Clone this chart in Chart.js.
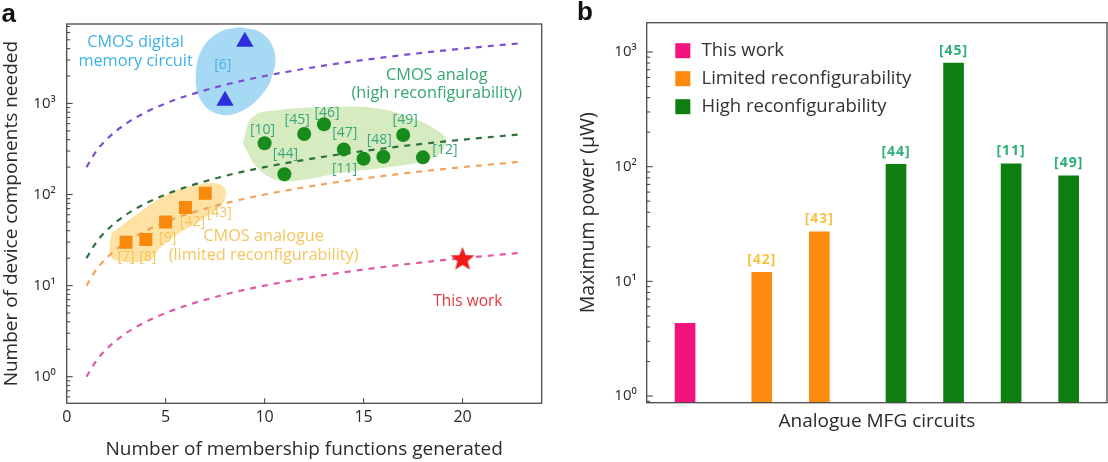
<!DOCTYPE html>
<html><head><meta charset="utf-8">
<script src="https://cdn.jsdelivr.net/npm/chart.js@4.4.1/dist/chart.umd.min.js"></script>
<style>
html,body{margin:0;padding:0;background:#fff;}
#wrap{position:relative;width:1108px;height:462px;overflow:hidden;background:#fff;}
#ca{position:absolute;left:0;top:0;width:560px;height:462px;}
#cb{position:absolute;left:560px;top:0;width:548px;height:462px;}
</style></head><body>
<div id="wrap">
<canvas id="ca" width="560" height="462"></canvas>
<canvas id="cb" width="548" height="462"></canvas>
</div>
<script>
// ================= Panel a data =================
const memRefs = ['[6]', '[6]'];
const memX = [9, 8];
const memY = [4750, 1070];
const lowRefs = ['[7]', '[8]', '[9]', '[42]', '[43]'];
const lowX = [3, 4, 5, 6, 7];
const lowY = [30, 32, 50, 72, 103];
const highRefs = ['[10]', '[44]', '[45]', '[46]', '[47]', '[11]', '[48]', '[49]', '[12]'];
const highX = [10, 11, 12, 13, 14, 15, 16, 17, 18];
const highY = [365, 167, 461, 590, 313, 247, 260, 450, 256];
const thisX = [20];
const thisY = [20];
const curveX = [1, 1.5, 2, 3, 4, 5, 6, 8, 10, 13, 16, 19, 23];
const curveDigital = [200, 300, 400, 600, 800, 1000, 1200, 1600, 2000, 2600, 3200, 3800, 4600];
const curveHigh = [20, 30, 40, 60, 80, 100, 120, 160, 200, 260, 320, 380, 460];
const curveLow = [10, 15, 20, 30, 40, 50, 60, 80, 100, 130, 160, 190, 230];
const curveThis = [1, 1.5, 2, 3, 4, 5, 6, 8, 10, 13, 16, 19, 23];
const xTickValues = [0, 5, 10, 15, 20];
const yTickPowersA = [0, 1, 2, 3];
// shaded group outlines (data coordinates)
const regionDigitalX = [8.74, 9.85, 10.5, 10.4, 9.85, 8.74, 7.63, 6.77, 6.52, 6.87, 7.73];
const regionDigitalY = [6900, 5930, 3660, 2050, 1235, 805, 765, 1090, 2050, 4055, 6080];
const regionHighX = [8.89, 9.39, 10.76, 13.28, 15.56, 17.32, 18.69, 19.19, 18.48, 16.31, 13.79, 11.92, 10.61, 9.6];
const regionHighY = [367, 709, 847, 913, 890, 709, 511, 377, 252, 200, 172, 144, 144, 200];
const regionLowX = [2.26, 3.85, 5.2, 6.72, 7.89, 7.98, 7.31, 5.54, 4.7, 4.19, 2.42, 2.17];
const regionLowY = [37.5, 67.6, 103, 130, 124, 87, 62, 35.9, 25.7, 19.1, 19.1, 24.6];

// ================= Panel b data =================
const circuitRefs = ['This work', '[42]', '[43]', '[44]', '[45]', '[11]', '[49]'];
const circuitGroup = ['This work', 'Limited reconfigurability', 'Limited reconfigurability',
  'High reconfigurability', 'High reconfigurability', 'High reconfigurability', 'High reconfigurability'];
const maxPower = [4.3, 12.0, 27.0, 105, 800, 106, 83];
const groupNames = ['This work', 'Limited reconfigurability', 'High reconfigurability'];
const yTickPowersB = [0, 1, 2, 3];

// ================= styling =================
const FONT = '"Open Sans", "DejaVu Sans", sans-serif';
const AXIS = '#4a4a4a';
const TXT = '#2a2a2a';
const groupColors = ['#f2137f', '#fd8a0f', '#0c7f10'];
const groupLabelColors = [null, '#f5c343', '#2eae79'];

const SUP = {'0': '⁰', '1': '¹', '2': '²', '3': '³', '4': '⁴', '5': '⁵', '-': '⁻'};
function powLabel(v, allowed) {
  const l = Math.log10(v), r = Math.round(l);
  if (Math.abs(l - r) > 1e-6 || !allowed.includes(r)) return '';
  return '10' + String(r).split('').map(c => SUP[c]).join('');
}
function logTickValues(min, max) {
  const out = [];
  for (let e = Math.floor(Math.log10(min)); e <= Math.ceil(Math.log10(max)); e++) {
    for (let k = 1; k <= 9; k++) {
      const v = k * Math.pow(10, e);
      if (v >= min * 0.999 && v <= max * 1.001) out.push({v, major: k === 1});
    }
  }
  return out;
}
const pts = (xs, ys, refs) => xs.map((x, i) => ({x, y: ys[i], ref: refs ? refs[i] : undefined}));
const loop = (xs, ys) => { const p = pts(xs, ys); p.push({x: xs[0], y: ys[0]}); return p; };

function starCanvas(r, color) {
  const c = document.createElement('canvas');
  const s = Math.ceil(2 * r + 2);
  c.width = c.height = s;
  const g = c.getContext('2d');
  g.fillStyle = color;
  g.beginPath();
  for (let i = 0; i < 10; i++) {
    const a = -Math.PI / 2 + i * Math.PI / 5;
    const rr = i % 2 ? r * 0.43 : r;
    g.lineTo(s / 2 + rr * Math.cos(a), s / 2 + rr * Math.sin(a) + r * 0.1);
  }
  g.closePath();
  g.fill();
  return c;
}

// frame + inner ticks
const framePlugin = {
  id: 'frame',
  afterDatasetsDraw(chart, args, opts) {
    const {ctx, chartArea: a, scales} = chart;
    ctx.save();
    ctx.strokeStyle = AXIS;
    ctx.lineWidth = 1.3;
    ctx.strokeRect(a.left, a.top, a.right - a.left, a.bottom - a.top);
    const y = scales.y;
    ctx.lineWidth = 1.1;
    logTickValues(y.min, y.max).forEach(t => {
      const p = y.getPixelForValue(t.v);
      if (p < a.top + 1 || p > a.bottom - 1) return;
      ctx.beginPath();
      ctx.moveTo(a.left, p);
      ctx.lineTo(a.left + (t.major ? 6 : 3.5), p);
      ctx.stroke();
    });
    if (opts.xTicks) {
      scales.x.ticks.forEach(t => {
        if (t.value <= scales.x.min) return;
        const p = scales.x.getPixelForValue(t.value);
        ctx.beginPath();
        ctx.moveTo(p, a.bottom);
        ctx.lineTo(p, a.bottom - 5);
        ctx.stroke();
      });
    }
    ctx.fillStyle = '#111';
    ctx.font = 'bold 26px "Liberation Sans", Arial, sans-serif';
    ctx.textBaseline = 'alphabetic';
    ctx.textAlign = 'left';
    ctx.fillText(opts.letter, opts.letterX, opts.letterY);
    ctx.restore();
  }
};

// ---------- panel a text annotations ----------
const notesA = [
  {lines: ['CMOS digital', 'memory circuit'], x: 3.48, y: 4690, color: '#3cb3e6', size: 16.3, lh: 18.7},
  {lines: ['CMOS analog', '(high reconfigurability)'], x: 18.7, y: 2050, color: '#33a86f', size: 16.3, lh: 18.3},
  {lines: ['CMOS analogue', '(limited reconfigurability)'], x: 9.95, y: 34.4, color: '#f6c45c', size: 16.3, lh: 18.3},
  {lines: ['This work'], x: 20.27, y: 6.65, color: '#e5383d', size: 15.5, lh: 18}
];
// pixel offsets of reference labels from their markers
const refOffsets = {
  mem: [[-22, 23], null],
  low: [[0, 15], [2, 17], [2, 16], [7, 15], [14, 20]],
  high: [[-2, -13], [1, -20], [-7, -14], [3, -11], [1, -16], [-19, 10], [-4, -17], [2, -15], [22, -7]]
};
const annotPluginA = {
  id: 'annotA',
  afterDatasetsDraw(chart) {
    const {ctx, scales: {x, y}} = chart;
    ctx.save();
    ctx.textAlign = 'center';
    ctx.textBaseline = 'middle';
    notesA.forEach(n => {
      ctx.fillStyle = n.color;
      ctx.font = n.size + 'px ' + FONT;
      const px = x.getPixelForValue(n.x), py = y.getPixelForValue(n.y);
      n.lines.forEach((l, i) => ctx.fillText(l, px, py + i * n.lh));
    });
    const drawRefs = (xs, ys, refs, offs, color) => {
      ctx.fillStyle = color;
      ctx.font = '14px ' + FONT;
      refs.forEach((r, i) => {
        if (!offs[i]) return;
        const px = x.getPixelForValue(xs[i]) + offs[i][0];
        const py = y.getPixelForValue(ys[i]) + offs[i][1];
        ctx.fillText(r, px, py);
      });
    };
    drawRefs(memX, memY, memRefs, refOffsets.mem, '#52aee3');
    drawRefs(lowX, lowY, lowRefs, refOffsets.low, '#f6c45c');
    drawRefs(highX, highY, highRefs, refOffsets.high, '#3aa77a');
    ctx.restore();
  }
};

const dashLine = (data, color) => ({
  type: 'line', data, borderColor: color, borderWidth: 2.2, borderDash: [6, 6],
  pointRadius: 0, fill: false, cubicInterpolationMode: 'monotone', order: 4
});
const region = (data, color) => ({
  type: 'line', data, backgroundColor: color, borderColor: 'rgba(0,0,0,0)', borderWidth: 0,
  pointRadius: 0, fill: 'shape', tension: 0.4, order: 6
});

new Chart(document.getElementById('ca'), {
  type: 'scatter',
  data: {
    datasets: [
      region(loop(regionDigitalX, regionDigitalY), '#a6d9f3'),
      region(loop(regionHighX, regionHighY), '#d7ebc1'),
      region(loop(regionLowX, regionLowY), '#fde2a3'),
      dashLine(pts(curveX, curveDigital), '#7e4fcf'),
      dashLine(pts(curveX, curveHigh), '#2f6f3f'),
      dashLine(pts(curveX, curveLow), '#f3a35c'),
      dashLine(pts(curveX, curveThis), '#df5aa6'),
      {label: 'CMOS digital memory circuit', data: pts(memX, memY, memRefs), pointStyle: 'triangle',
        pointRadius: 10, backgroundColor: '#2d2ddb', borderColor: '#2d2ddb', borderWidth: 0, order: 1},
      {label: 'CMOS analogue (limited reconfigurability)', data: pts(lowX, lowY, lowRefs), pointStyle: 'rect',
        pointRadius: 9.2, backgroundColor: '#f7890c', borderColor: '#f7890c', borderWidth: 0, order: 1},
      {label: 'CMOS analog (high reconfigurability)', data: pts(highX, highY, highRefs), pointStyle: 'circle',
        pointRadius: 7, backgroundColor: '#178b1b', borderColor: '#178b1b', borderWidth: 0, order: 1},
      {label: 'This work', data: pts(thisX, thisY), pointStyle: starCanvas(12.6, '#f21b1b'),
        pointRadius: 12, backgroundColor: '#f21b1b', order: 0}
    ]
  },
  options: {
    responsive: false, animation: false, events: [],
    layout: {padding: {top: 24, right: 18.3, left: 0, bottom: 0}},
    plugins: {legend: {display: false}, tooltip: {enabled: false},
      frame: {xTicks: true, letter: 'a', letterX: 1.5, letterY: 21.5}},
    scales: {
      x: {
        type: 'linear', min: 0, max: 24,
        afterBuildTicks: s => { s.ticks = xTickValues.map(v => ({value: v})); },
        ticks: {color: TXT, font: {family: FONT, size: 16}, padding: 5, autoSkip: false, maxRotation: 0},
        grid: {display: false, drawTicks: false}, border: {display: false},
        title: {display: true, text: 'Number of membership functions generated', color: TXT,
          font: {family: FONT, size: 19}, padding: {top: 0, bottom: 0.6}},
        afterFit: s => { s.height = 58.7; }
      },
      y: {
        type: 'logarithmic', min: 0.51, max: 7450,
        ticks: {color: TXT, font: {family: FONT, size: 15}, padding: 11, autoSkip: false,
          callback: v => powLabel(v, yTickPowersA)},
        grid: {display: false, drawTicks: false}, border: {display: false},
        title: {display: true, text: 'Number of device components needed', color: TXT,
          font: {family: FONT, size: 19}, padding: {top: 0.5, bottom: 0}},
        afterFit: s => { s.width = 66.7; }
      }
    }
  },
  plugins: [framePlugin, annotPluginA]
});

// ================= Panel b =================
const slots = [];
{
  let changes = 0;
  circuitGroup.forEach((g, i) => {
    if (i > 0 && g !== circuitGroup[i - 1]) changes++;
    slots.push(3 * i + changes);
  });
}
const barLabelPlugin = {
  id: 'barLabels',
  afterDatasetsDraw(chart) {
    const {ctx} = chart;
    ctx.save();
    ctx.textAlign = 'center';
    ctx.textBaseline = 'middle';
    ctx.font = 'bold 14px ' + FONT;
    if ('letterSpacing' in ctx) ctx.letterSpacing = '1px';
    chart.data.datasets.forEach((ds, di) => {
      const meta = chart.getDatasetMeta(di);
      ds.data.forEach((d, j) => {
        const col = groupLabelColors[groupNames.indexOf(circuitGroup[circuitRefs.indexOf(d.ref)])];
        if (!col) return;
        const el = meta.data[j];
        ctx.fillStyle = col;
        ctx.fillText(d.ref, el.x, el.y - 12.5);
      });
    });
    ctx.restore();
  }
};
const legendPluginB = {
  id: 'legendB',
  afterDatasetsDraw(chart) {
    const {ctx, chartArea: a} = chart;
    ctx.save();
    ctx.textAlign = 'left';
    ctx.textBaseline = 'middle';
    ctx.font = '18.5px ' + FONT;
    groupNames.forEach((g, i) => {
      const cy = a.top + 28 + i * 28;
      ctx.fillStyle = groupColors[i];
      ctx.fillRect(a.left + 28.6, cy - 7.5, 15, 15);
      ctx.fillStyle = '#333';
      ctx.fillText(g, a.left + 54.8, cy);
    });
    ctx.restore();
  }
};

new Chart(document.getElementById('cb'), {
  type: 'bar',
  data: {
    datasets: groupNames.map((g, gi) => ({
      label: g,
      data: circuitRefs.map((r, i) => ({x: slots[i], y: maxPower[i], ref: r, g: circuitGroup[i]}))
        .filter(d => d.g === g),
      backgroundColor: groupColors[gi],
      barThickness: 20,
      grouped: false
    }))
  },
  options: {
    responsive: false, animation: false, events: [],
    layout: {padding: {top: 22.7, right: 1, left: 0, bottom: 0}},
    plugins: {legend: {display: false}, tooltip: {enabled: false},
      frame: {xTicks: false, letter: 'b', letterX: 17, letterY: 20}},
    scales: {
      x: {
        type: 'linear', min: -2, max: 22, offset: false,
        ticks: {display: false},
        grid: {display: false, drawTicks: false}, border: {display: false},
        title: {display: true, text: 'Analogue MFG circuits', color: TXT,
          font: {family: FONT, size: 19}, padding: {top: 0, bottom: 28.9}},
        afterFit: s => { s.height = 59.3; }
      },
      y: {
        type: 'logarithmic', min: 0.875, max: 1800,
        ticks: {color: TXT, font: {family: FONT, size: 15}, padding: 10, autoSkip: false,
          callback: v => powLabel(v, yTickPowersB)},
        grid: {display: false, drawTicks: false}, border: {display: false},
        title: {display: true, text: 'Maximum power (μW)', color: TXT,
          font: {family: FONT, size: 19.5}, padding: {top: 16.3, bottom: 0}},
        afterFit: s => { s.width = 86.7; }
      }
    }
  },
  plugins: [framePlugin, barLabelPlugin, legendPluginB]
});
</script>
</body></html>
